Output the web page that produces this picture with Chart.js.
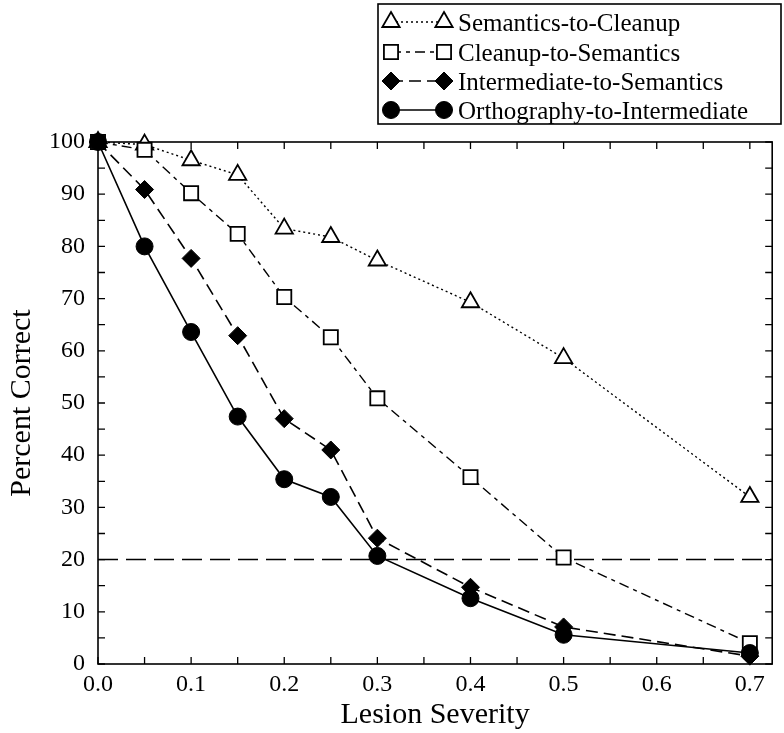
<!DOCTYPE html>
<html><head><meta charset="utf-8">
<script src="https://cdn.jsdelivr.net/npm/chart.js@4"></script>
<style>html,body{margin:0;padding:0;background:#fff;}canvas{display:block;}</style>
</head><body>
<canvas id="c" width="784" height="733"></canvas>
<script>
// ---- data ----
const lesionSeverity = [0, 0.05, 0.1, 0.15, 0.2, 0.25, 0.3, 0.4, 0.5, 0.7];
const semanticsToCleanup = [100, 99.5, 96.5, 93.7, 83.4, 81.8, 77.3, 69.3, 58.6, 32.0];
const cleanupToSemantics = [100, 98.5, 90.2, 82.4, 70.3, 62.6, 50.9, 35.8, 20.4, 4.0];
const intermediateToSemantics = [100, 90.9, 77.7, 62.9, 47.0, 41.0, 24.1, 14.7, 7.1, 1.5];
const orthographyToIntermediate = [100, 80.0, 63.6, 47.4, 35.4, 32.0, 20.7, 12.6, 5.6, 2.1];
const seriesNames = ['Semantics-to-Cleanup', 'Cleanup-to-Semantics', 'Intermediate-to-Semantics', 'Orthography-to-Intermediate'];
const xTickValues = [0, 0.1, 0.2, 0.3, 0.4, 0.5, 0.6, 0.7];
const xTickLabels = ['0.0', '0.1', '0.2', '0.3', '0.4', '0.5', '0.6', '0.7'];
const xMinorTicks = [0.05, 0.15, 0.25, 0.35, 0.45, 0.55, 0.65];
const yTickValues = [0, 10, 20, 30, 40, 50, 60, 70, 80, 90, 100];
const yTickLabels = ['0', '10', '20', '30', '40', '50', '60', '70', '80', '90', '100'];
const yMinorTicks = [5, 15, 25, 35, 45, 55, 65, 75, 85, 95];
const chanceLevel = 20;
const xAxisMax = 0.724;
const xTitle = 'Lesion Severity';
const yTitle = 'Percent Correct';

const SERIF = '"Liberation Serif", "Times New Roman", serif';
const toPts = arr => arr.map((v, i) => ({x: lesionSeverity[i], y: v}));

const styles = [
  {pointStyle: 'triangle', radius: 10, fill: '#fff', dash: [2, 3], bw: 1.8, lw: 1.4},
  {pointStyle: 'rect', radius: 10, fill: '#fff', dash: [10, 5, 4, 5], bw: 1.8, lw: 1.4},
  {pointStyle: 'rectRot', radius: 9, fill: '#000', dash: [12, 6], bw: 1, lw: 1.6},
  {pointStyle: 'circle', radius: 8.5, fill: '#000', dash: [], bw: 1, lw: 1.6}
];
const seriesData = [semanticsToCleanup, cleanupToSemantics, intermediateToSemantics, orthographyToIntermediate];

const datasets = seriesData.map((d, i) => ({
  label: seriesNames[i],
  data: toPts(d),
  borderColor: '#000',
  borderWidth: styles[i].lw,
  borderDash: styles[i].dash,
  pointStyle: styles[i].pointStyle,
  pointRadius: styles[i].radius,
  pointHoverRadius: styles[i].radius,
  pointBackgroundColor: styles[i].fill,
  pointBorderColor: '#000',
  pointBorderWidth: styles[i].bw,
  fill: false,
  tension: 0,
  clip: false,
  order: 3 - i
}));

const chanceLine = {
  id: 'chanceLine',
  beforeDatasetsDraw(chart) {
    const {ctx, chartArea: a, scales: {y}} = chart;
    const py = y.getPixelForValue(chanceLevel);
    ctx.save();
    ctx.strokeStyle = '#000';
    ctx.lineWidth = 1.5;
    ctx.setLineDash([20, 8]);
    ctx.beginPath();
    ctx.moveTo(a.left, py);
    ctx.lineTo(a.right, py);
    ctx.stroke();
    ctx.restore();
  }
};

const frameTicks = {
  id: 'frameTicks',
  beforeDatasetsDraw(chart) {
    const {ctx, chartArea: a, scales: {x, y}} = chart;
    const L = 7;
    ctx.save();
    ctx.strokeStyle = '#000';
    ctx.lineWidth = 1.6;
    ctx.setLineDash([]);
    ctx.strokeRect(a.left, a.top, a.right - a.left, a.bottom - a.top);
    ctx.lineWidth = 1.3;
    ctx.beginPath();
    xTickValues.concat(xMinorTicks).forEach(v => {
      const px = x.getPixelForValue(v);
      ctx.moveTo(px, a.bottom); ctx.lineTo(px, a.bottom - L);
      ctx.moveTo(px, a.top); ctx.lineTo(px, a.top + L);
    });
    yTickValues.concat(yMinorTicks).forEach(v => {
      const py = y.getPixelForValue(v);
      ctx.moveTo(a.left, py); ctx.lineTo(a.left + L, py);
      ctx.moveTo(a.right, py); ctx.lineTo(a.right - L, py);
    });
    ctx.stroke();
    ctx.restore();
  }
};

function marker(ctx, st, px, py) {
  ctx.save();
  ctx.setLineDash([]);
  ctx.fillStyle = st.fill;
  ctx.strokeStyle = '#000';
  ctx.lineWidth = st.bw;
  if (Chart.helpers && Chart.helpers.drawPoint) {
    Chart.helpers.drawPoint(ctx, {pointStyle: st.pointStyle, radius: st.radius, borderWidth: st.bw, rotation: 0}, px, py);
  }
  ctx.restore();
}

const legendBox = {
  id: 'legendBox',
  afterDraw(chart) {
    const ctx = chart.ctx;
    const box = {l: 378, t: 4, r: 781, b: 124};
    const rowsY = [22, 52, 81, 110];
    ctx.save();
    ctx.fillStyle = '#fff';
    ctx.fillRect(box.l, box.t, box.r - box.l, box.b - box.t);
    ctx.strokeStyle = '#000';
    ctx.lineWidth = 1.6;
    ctx.strokeRect(box.l, box.t, box.r - box.l, box.b - box.t);
    seriesNames.forEach((name, i) => {
      const st = styles[i];
      const yy = rowsY[i];
      const x1 = 391, x2 = 444;
      ctx.save();
      ctx.strokeStyle = '#000';
      ctx.lineWidth = st.lw;
      ctx.setLineDash(st.dash);
      ctx.beginPath();
      ctx.moveTo(x1, yy); ctx.lineTo(x2, yy);
      ctx.stroke();
      ctx.restore();
      marker(ctx, st, x1, yy);
      marker(ctx, st, x2, yy);
      ctx.fillStyle = '#000';
      ctx.font = '25px ' + SERIF;
      ctx.textAlign = 'left';
      ctx.textBaseline = 'alphabetic';
      ctx.fillText(name, 458, yy + 9);
    });
    ctx.restore();
  }
};

new Chart(document.getElementById('c'), {
  type: 'line',
  data: {datasets},
  options: {
    responsive: false,
    animation: false,
    events: [],
    layout: {padding: {top: 142, right: 2, left: 0, bottom: 0}},
    plugins: {legend: {display: false}, tooltip: {enabled: false}},
    scales: {
      x: {
        type: 'linear',
        position: 'bottom',
        min: 0,
        max: xAxisMax,
        afterBuildTicks: s => { s.ticks = xTickValues.map(v => ({value: v})); },
        afterFit: s => { s.height = 69; },
        grid: {display: false, drawTicks: false, tickLength: 0},
        border: {display: false},
        ticks: {
          color: '#000',
          font: {family: SERIF, size: 24},
          padding: 6,
          maxRotation: 0,
          autoSkip: false,
          callback: (v, i) => xTickLabels[i]
        },
        title: {display: true, text: xTitle, color: '#000', font: {family: SERIF, size: 30}, padding: {top: 0, bottom: 0}}
      },
      y: {
        type: 'linear',
        min: 0,
        max: 100,
        afterBuildTicks: s => { s.ticks = yTickValues.map(v => ({value: v})); },
        afterFit: s => { s.width = 98; },
        grid: {display: false, drawTicks: false, tickLength: 0},
        border: {display: false},
        ticks: {
          color: '#000',
          font: {family: SERIF, size: 24},
          padding: 13,
          autoSkip: false,
          callback: (v, i) => yTickLabels[i]
        },
        title: {display: true, text: yTitle, color: '#000', font: {family: SERIF, size: 30}, padding: {top: 4, bottom: 0}}
      }
    }
  },
  plugins: [chanceLine, frameTicks, legendBox]
});
</script>
</body></html>
